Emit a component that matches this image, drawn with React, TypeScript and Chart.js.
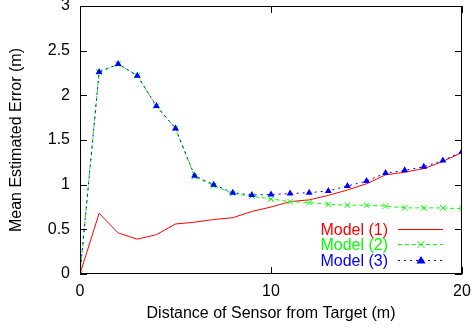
import React, { useEffect, useRef } from "react";
import { Chart, registerables } from "chart.js";

Chart.register(...registerables);

const distances = [0, 1, 2, 3, 4, 5, 6, 7, 8, 9, 10, 11, 12, 13, 14, 15, 16, 17, 18, 19, 20];
const model1 = [0, 0.68, 0.46, 0.39, 0.44, 0.56, 0.58, 0.61, 0.63, 0.7, 0.75, 0.81, 0.83, 0.88, 0.94, 1.01, 1.11, 1.14, 1.18, 1.26, 1.36];
const model2 = [0, 2.26, 2.35, 2.22, 1.88, 1.63, 1.09, 0.99, 0.9, 0.87, 0.84, 0.81, 0.8, 0.78, 0.77, 0.77, 0.76, 0.74, 0.74, 0.74, 0.73];
const model3 = [0, 2.26, 2.35, 2.22, 1.88, 1.63, 1.1, 1.0, 0.91, 0.885, 0.89, 0.9, 0.91, 0.93, 0.985, 1.04, 1.13, 1.16, 1.2, 1.27, 1.37];
const seriesLabels = ["Model (1)", "Model (2)", "Model (3)"];
const xTitle = "Distance of Sensor from Target (m)";
const yTitle = "Mean Estimated Error (m)";

const FONT = '"Liberation Sans", Arial, sans-serif';
const RED = "#ff0000";
const GREEN = "#00ff00";
const BLUE = "#0000ff";

function toPts(vals: number[]) {
  return vals.map((v, i) => ({ x: distances[i], y: v }));
}

const framePlugin = {
  id: "frame",
  afterDatasetsDraw(chart: any) {
    const { ctx, chartArea } = chart;
    const { left, right, top, bottom } = chartArea;
    const xs = chart.scales.x;
    const ys = chart.scales.y;
    ctx.save();
    ctx.strokeStyle = "#000";
    ctx.lineWidth = 1;
    ctx.strokeRect(left + 0.5, top + 0.5, right - left - 1, bottom - top - 1);
    ctx.beginPath();
    const tl = 7;
    ys.ticks.forEach((t: any) => {
      const y = Math.round(ys.getPixelForValue(t.value)) + 0.5;
      ctx.moveTo(left, y);
      ctx.lineTo(left + tl, y);
      ctx.moveTo(right, y);
      ctx.lineTo(right - tl, y);
    });
    xs.ticks.forEach((t: any) => {
      const x = Math.round(xs.getPixelForValue(t.value)) + 0.5;
      ctx.moveTo(x, bottom);
      ctx.lineTo(x, bottom - tl);
      ctx.moveTo(x, top);
      ctx.lineTo(x, top + tl);
    });
    ctx.stroke();

    // axis titles
    ctx.fillStyle = "#000";
    ctx.font = `16px ${FONT}`;
    ctx.textAlign = "center";
    ctx.textBaseline = "alphabetic";
    ctx.fillText(xTitle, (left + right) / 2, 318);
    ctx.save();
    ctx.translate(21, (top + bottom) / 2);
    ctx.rotate(-Math.PI / 2);
    ctx.fillText(yTitle, 0, 0);
    ctx.restore();

    // legend
    const colors = [RED, GREEN, BLUE];
    const dashes = [[], [4, 3], [2, 4]];
    const rows = [228.5, 244, 259.5];
    ctx.font = `16px ${FONT}`;
    ctx.textAlign = "right";
    ctx.textBaseline = "alphabetic";
    for (let i = 0; i < 3; i++) {
      const y = rows[i];
      ctx.fillStyle = colors[i];
      ctx.fillText(seriesLabels[i], 388, y + 6);
      ctx.strokeStyle = colors[i];
      ctx.setLineDash(dashes[i]);
      ctx.beginPath();
      ctx.moveTo(398, Math.round(y) + 0.5);
      ctx.lineTo(443, Math.round(y) + 0.5);
      ctx.stroke();
      ctx.setLineDash([]);
      const mx = 421;
      const my = Math.round(y) + 0.5;
      if (i === 1) {
        ctx.beginPath();
        ctx.moveTo(mx - 3.5, my - 3.5);
        ctx.lineTo(mx + 3.5, my + 3.5);
        ctx.moveTo(mx - 3.5, my + 3.5);
        ctx.lineTo(mx + 3.5, my - 3.5);
        ctx.stroke();
      } else if (i === 2) {
        ctx.fillStyle = BLUE;
        ctx.beginPath();
        ctx.moveTo(mx, my - 4.5);
        ctx.lineTo(mx + 4.5, my + 3);
        ctx.lineTo(mx - 4.5, my + 3);
        ctx.closePath();
        ctx.fill();
      }
    }
    ctx.restore();
  },
};

export default function App() {
  const ref = useRef<HTMLCanvasElement | null>(null);
  useEffect(() => {
    document.body.style.margin = "0";
    const canvas = ref.current;
    if (!canvas) return;
    const chart = new Chart(canvas, {
      type: "line",
      data: {
        datasets: [
          {
            label: seriesLabels[0],
            data: toPts(model1),
            borderColor: RED,
            backgroundColor: RED,
            borderWidth: 1,
            pointRadius: 0,
            tension: 0,
            order: 3,
          },
          {
            label: seriesLabels[1],
            data: toPts(model2),
            borderColor: GREEN,
            backgroundColor: GREEN,
            borderWidth: 1,
            borderDash: [4, 3],
            pointStyle: "crossRot",
            pointRadius: 4,
            pointBorderWidth: 1,
            tension: 0,
            order: 2,
          },
          {
            label: seriesLabels[2],
            data: toPts(model3),
            borderColor: BLUE,
            backgroundColor: BLUE,
            borderWidth: 1,
            borderDash: [2, 4],
            pointStyle: "triangle",
            pointRadius: 4,
            pointBorderWidth: 0,
            tension: 0,
            order: 1,
          },
        ],
      },
      options: {
        responsive: false,
        animation: false,
        layout: { padding: { top: 6, right: 11, left: 0, bottom: 0 } },
        plugins: { legend: { display: false }, tooltip: { enabled: false } },
        scales: {
          x: {
            type: "linear",
            min: 0,
            max: 20,
            grid: { display: false, drawTicks: false },
            border: { display: false },
            ticks: {
              stepSize: 10,
              padding: 8,
              color: "#000",
              font: { family: FONT, size: 16 },
              maxRotation: 0,
            },
            afterFit(scale: any) {
              scale.height = 55;
              scale.paddingLeft = 0;
              scale.paddingRight = 0;
            },
          },
          y: {
            type: "linear",
            min: 0,
            max: 3,
            grid: { display: false, drawTicks: false },
            border: { display: false },
            ticks: {
              stepSize: 0.5,
              padding: 10,
              color: "#000",
              font: { family: FONT, size: 16 },
              callback: (v: any) => String(Number(v)),
            },
            afterFit(scale: any) {
              scale.width = 80;
              scale.paddingTop = 0;
              scale.paddingBottom = 0;
            },
          },
        },
      },
      plugins: [framePlugin],
    } as any);
    return () => chart.destroy();
  }, []);
  return (
    <div style={{ width: 473, height: 329 }}>
      <canvas ref={ref} width={473} height={329} style={{ display: "block" }} />
    </div>
  );
}
